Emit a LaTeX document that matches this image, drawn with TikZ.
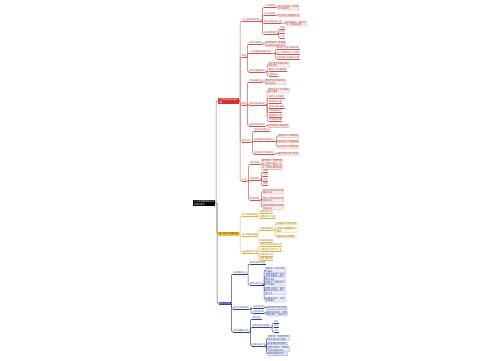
\documentclass[tikz,border=0pt]{standalone}
\usepackage{fontspec}
\newfontfamily\cjk{Noto Sans CJK SC}
\XeTeXlinebreaklocale "zh"
\XeTeXlinebreakskip=0pt plus 1pt
\newcommand\mmf{\cjk\fontsize{2.2}{2.4}\selectfont}
\definecolor{rln}{HTML}{D0564C}
\definecolor{rtxt}{HTML}{9A3A33}
\definecolor{rbd}{HTML}{E59A93}
\definecolor{rbg}{HTML}{FDEEEC}
\definecolor{rfill}{HTML}{D3312A}
\definecolor{yln}{HTML}{E3B52A}
\definecolor{ytxt}{HTML}{8A6A12}
\definecolor{ybd}{HTML}{E8CD6A}
\definecolor{ybg}{HTML}{FFF9E2}
\definecolor{yfill}{HTML}{F2C12E}
\definecolor{bln}{HTML}{2E3C9E}
\definecolor{btxt}{HTML}{2E3C7E}
\definecolor{bbd}{HTML}{8C98D8}
\definecolor{bbg}{HTML}{ECEFFB}
\definecolor{bfill}{HTML}{2B3AA8}
\tikzset{
  mmbase/.style={font=\mmf, inner xsep=0.4bp, inner ysep=0.5bp, outer sep=0pt},
  ul/.style={mmbase, anchor=south west, text=#1txt,
    append after command={(\tikzlastnode.south west) edge[draw=#1ln, line width=0.45bp] (\tikzlastnode.south east)}},
  leaf/.style 2 args={mmbase, anchor=west, draw=#1bd, fill=#1bg, text=#1txt, line width=0.35bp,
    rounded corners=0.4bp, inner ysep=0.3bp, text width=#2, align=left},
  topnode/.style={mmbase, anchor=west, inner xsep=0.8bp, inner ysep=0.6bp, align=left},
  lk/.style={draw=#1ln, line width=0.45bp, rounded corners=1bp},
}
\newcommand\cnx[3]{\draw[lk=#1] (#2) -| ([xshift=-1.3bp]#3) -- (#3);}
\begin{document}
\begin{tikzpicture}[x=1bp,y=-1bp]
\fill[white] (0,0) rectangle (500,360);
\useasboundingbox (0,0) rectangle (500,360);

% root and main branches
\node[topnode, fill=black, text=white, font=\cjk\fontsize{2.3}{2.6}\selectfont] (root) at (193,203) {人力资源管理知识点\\总结与复习};
\node[topnode, fill=rfill, text=white] (R) at (217.5,101) {人力资源规划的基本\\内容};
\node[topnode, fill=yfill, text=black!80] (Y) at (218,234) {员工招聘与配置管理};
\node[topnode, fill=bfill, text=white] (B) at (218.5,303.5) {培训与开发};

% red branch
\node[ul=r] (RA) at (241.5,21) {人力资源规划的含义};
\node[ul=r] (RA1) at (264,7.5) {广义的规划};
\node[leaf={r}{20bp}] (RA1a) at (278,7.5) {指企业所有人力资源计划的总称};
\node[ul=r] (RA2) at (264,15.5) {狭义的规划};
\node[leaf={r}{20bp}] (RA2a) at (279,15.5) {企业的人员配备计划};
\node[ul=r] (RA3) at (264,23.5) {规划主要内容分类};
\node[leaf={r}{20bp}] (RA3a) at (286,23.5) {战略规划、组织规划、制度规划等};
\node[ul=r] (RA4) at (264,34) {规划的重要性};
\node[ul=r] (RA4a) at (280,29) {战略};
\node[ul=r] (RA4b) at (280,33.5) {组织};
\node[ul=r] (RA4c) at (280,38) {人员};

\node[ul=r] (RB) at (241.5,57) {目标};
\node[ul=r] (RB1) at (249,44) {规划总体目标};
\node[leaf={r}{20bp}] (RB1a) at (265,44) {得到和保持一定数量具备特定技能的员工};
\node[ul=r] (RB2) at (249,53.5) {人力资源规划具体目标};
\node[ul=r] (RB2a) at (277,49) {降低人工成本提高效率};
\node[ul=r] (RB2b) at (277,54) {充分利用现有人力资源};
\node[ul=r] (RB2c) at (277,59) {预测组织中潜在的过剩};
\node[ul=r] (RB3) at (249,72) {规划应遵循原则};
\node[leaf={r}{20bp}] (RB3a) at (268.5,64.5) {充分考虑内部外部环境的变化};
\node[ul=r] (RB3b) at (268.5,71) {确保人力资源保障};
\node[ul=r] (RB3c) at (268.5,76) {双赢原则};

\node[ul=r] (RC) at (241.5,105) {程序};
\node[ul=r] (RC1) at (249,82) {调查准备阶段};
\node[leaf={r}{20bp}] (RC1a) at (265,82) {收集企业内外部的各种信息资料};
\node[ul=r] (RC2) at (249,105) {预测与实施阶段};
\node[leaf={r}{20bp}] (RC2a) at (268.5,90.5) {预测企业人力资源供给与需求};
\node[ul=r] (RC2b) at (268.5,98) {确定人员净需求};
\node[ul=r] (RC2c) at (268.5,103) {制定规划方案};
\node[ul=r] (RC2d) at (268.5,108) {审核与评估规划};
\node[ul=r] (RC2e) at (268.5,112.5) {控制规划执行};
\node[ul=r] (RC2f) at (268.5,117) {调整规划内容};
\node[ul=r] (RC2g) at (268.5,121.5) {反馈规划结果};
\node[ul=r] (RC3) at (249,126) {规划的评估控制};
\node[leaf={r}{20bp}] (RC3a) at (268.5,126) {对规划进行审核评价};

\node[ul=r] (RD) at (241.5,142) {规划分类};
\node[ul=r] (RD1) at (254,131) {按时间长短划分};
\node[ul=r] (RD2) at (254,141.5) {按照规划的性质划分};
\node[leaf={r}{20bp}] (RD2a) at (278,136) {战略性人力资源规划};
\node[leaf={r}{20bp}] (RD2b) at (278,141.5) {战术性人力资源规划};
\node[leaf={r}{20bp}] (RD2c) at (278,147) {作业性人力资源规划};
\node[ul=r] (RD3) at (254,154) {按规划的范围来划分};
\node[leaf={r}{20bp}] (RD3a) at (278,154) {整体规划与部门规划};

\node[ul=r] (RE) at (241.5,181) {方法};
\node[ul=r] (RE1) at (250,164.5) {需求预测};
\node[leaf={r}{20bp}] (RE1a) at (261.5,164.5) {德尔菲法、经验判断法、趋势分析法、比率分析法、回归分析法、计算机模拟法等};
\node[ul=r] (RE2) at (250,180) {供给预测};
\node[ul=r] (RE2a) at (263,172) {内部};
\node[ul=r] (RE2b) at (263,176.5) {外部};
\node[ul=r] (RE2c) at (263,181) {技能};
\node[ul=r] (RE2d) at (263,185.5) {替换};
\node[ul=r] (RE3) at (250,200) {供需平衡};
\node[leaf={r}{20bp}] (RE3a) at (263,191.5) {供不应求时的应对措施和方法};
\node[leaf={r}{20bp}] (RE3b) at (263,199.5) {供大于求时的应对措施和方法};
\node[leaf={r}{20bp}] (RE3c) at (263,207) {结构性失衡时的调整措施方法};

% yellow branch
\node[ul=y] (YA) at (241.5,216) {员工招聘的概念};
\node[ul=y] (YA1) at (259.5,213) {招聘基本含义};
\node[ul=y] (YA2) at (259.5,218.5) {招聘的意义作用};
\node[ul=y] (YB) at (241.5,236) {员工招聘的渠道};
\node[ul=y] (YB1) at (259.5,230) {内部招聘渠道};
\node[leaf={y}{20bp}] (YB1a) at (276.5,223.5) {内部晋升与岗位轮换};
\node[leaf={y}{20bp}] (YB1b) at (276.5,230) {内部公开招聘及员工推荐};
\node[leaf={y}{19bp}] (YB1c) at (276.5,236.5) {档案记录法的使用};
\node[ul=y] (YB2) at (259.5,242) {外部招聘渠道};
\node[ul=y] (YC) at (241.5,253) {员工甄选的方法};
\node[ul=y] (YC1) at (259.5,246.5) {笔试法与面试法的运用};
\node[ul=y] (YC2) at (259.5,251) {心理测试与评价中心法};
\node[ul=y] (YC3) at (259.5,256) {背景调查方法};
\node[ul=y] (YC4) at (259.5,260.5) {录用决策制定};

% blue branch
\node[ul=b] (BA) at (233,274) {培训需求分析};
\node[ul=b] (BA1) at (249.5,264) {需求分析的内容};
\node[ul=b] (BA2) at (249.5,285) {需求分析方法};
\node[leaf={b}{19bp}] (BA2a) at (265.5,270) {面谈法：与员工进行面谈};
\node[leaf={b}{19bp}] (BA2b) at (265.5,277) {问卷调查法：设计问卷收集有关培训需求信息};
\node[leaf={b}{19bp}] (BA2c) at (265.5,283.5) {观察法：观察员工工作表现};
\node[leaf={b}{19bp}] (BA2d) at (265.5,291) {绩效分析法：通过考核发现员工的不足之处};
\node[leaf={b}{19bp}] (BA2e) at (265.5,299.5) {关键事件法：记录关键事件};
\node[ul=b] (BB) at (233,309) {培训计划的制定};
\node[ul=b] (BB1) at (252.5,308) {计划的内容};
\node[leaf={b}{20bp}] (BB1a) at (266.5,308) {培训目的对象与内容};
\node[ul=b] (BB2) at (252.5,313.5) {计划的步骤};
\node[leaf={b}{20bp}] (BB2a) at (266.5,313.5) {确定培训需求、设置培训目标、选择方法};
\node[ul=b] (BC) at (233,332) {培训效果的评估};
\node[ul=b] (BC1) at (252,319) {评估意义};
\node[ul=b] (BC2) at (252,327.5) {柯氏四级评估模型};
\node[ul=b] (BC2a) at (273.5,323) {反应};
\node[ul=b] (BC2b) at (273.5,327.5) {学习};
\node[ul=b] (BC2c) at (273.5,332) {行为};
\node[ul=b] (BC3) at (252,346) {效果评估方法};
\node[leaf={b}{21bp}] (BC3a) at (268,338) {测验法：通过考试检查学员的知识掌握};
\node[leaf={b}{19bp}] (BC3b) at (268,343.5) {问卷调查法的使用};
\node[leaf={b}{21bp}] (BC3c) at (268,349) {绩效考核法：考察培训后的绩效变化};
\node[leaf={b}{19bp}] (BC3d) at (268,354) {成本收益分析法};

% connectors: trunk
\cnx{r}{root.east}{R.west}
\cnx{y}{root.east}{Y.west}
\cnx{b}{root.east}{B.west}

% red connectors
\foreach \c in {RA,RB,RC,RD,RE} {\cnx{r}{R.east}{\c.south west}}
\foreach \c in {RA1,RA2,RA3,RA4} {\cnx{r}{RA.south east}{\c.south west}}
\cnx{r}{RA1.south east}{RA1a.west}
\cnx{r}{RA2.south east}{RA2a.west}
\cnx{r}{RA3.south east}{RA3a.west}
\foreach \c in {RA4a,RA4b,RA4c} {\cnx{r}{RA4.south east}{\c.south west}}
\foreach \c in {RB1,RB2,RB3} {\cnx{r}{RB.south east}{\c.south west}}
\cnx{r}{RB1.south east}{RB1a.west}
\foreach \c in {RB2a,RB2b,RB2c} {\cnx{r}{RB2.south east}{\c.south west}}
\cnx{r}{RB3.south east}{RB3a.west}
\foreach \c in {RB3b,RB3c} {\cnx{r}{RB3.south east}{\c.south west}}
\foreach \c in {RC1,RC2,RC3} {\cnx{r}{RC.south east}{\c.south west}}
\cnx{r}{RC1.south east}{RC1a.west}
\cnx{r}{RC2.south east}{RC2a.west}
\foreach \c in {RC2b,RC2c,RC2d,RC2e,RC2f,RC2g} {\cnx{r}{RC2.south east}{\c.south west}}
\cnx{r}{RC3.south east}{RC3a.west}
\foreach \c in {RD1,RD2,RD3} {\cnx{r}{RD.south east}{\c.south west}}
\foreach \c in {RD2a,RD2b,RD2c} {\cnx{r}{RD2.south east}{\c.west}}
\cnx{r}{RD3.south east}{RD3a.west}
\foreach \c in {RE1,RE2,RE3} {\cnx{r}{RE.south east}{\c.south west}}
\cnx{r}{RE1.south east}{RE1a.west}
\foreach \c in {RE2a,RE2b,RE2c,RE2d} {\cnx{r}{RE2.south east}{\c.south west}}
\foreach \c in {RE3a,RE3b,RE3c} {\cnx{r}{RE3.south east}{\c.west}}

% yellow connectors
\foreach \c in {YA,YB,YC} {\cnx{y}{Y.east}{\c.south west}}
\foreach \c in {YA1,YA2} {\cnx{y}{YA.south east}{\c.south west}}
\foreach \c in {YB1,YB2} {\cnx{y}{YB.south east}{\c.south west}}
\foreach \c in {YB1a,YB1b,YB1c} {\cnx{y}{YB1.south east}{\c.west}}
\foreach \c in {YC1,YC2,YC3,YC4} {\cnx{y}{YC.south east}{\c.south west}}

% blue connectors
\foreach \c in {BA,BB,BC} {\cnx{b}{B.east}{\c.south west}}
\foreach \c in {BA1,BA2} {\cnx{b}{BA.south east}{\c.south west}}
\foreach \c in {BA2a,BA2b,BA2c,BA2d,BA2e} {\cnx{b}{BA2.south east}{\c.west}}
\foreach \c in {BB1,BB2} {\cnx{b}{BB.south east}{\c.south west}}
\cnx{b}{BB1.south east}{BB1a.west}
\cnx{b}{BB2.south east}{BB2a.west}
\foreach \c in {BC1,BC2,BC3} {\cnx{b}{BC.south east}{\c.south west}}
\foreach \c in {BC2a,BC2b,BC2c} {\cnx{b}{BC2.south east}{\c.south west}}
\foreach \c in {BC3a,BC3b,BC3c,BC3d} {\cnx{b}{BC3.south east}{\c.west}}
\end{tikzpicture}
\end{document}
